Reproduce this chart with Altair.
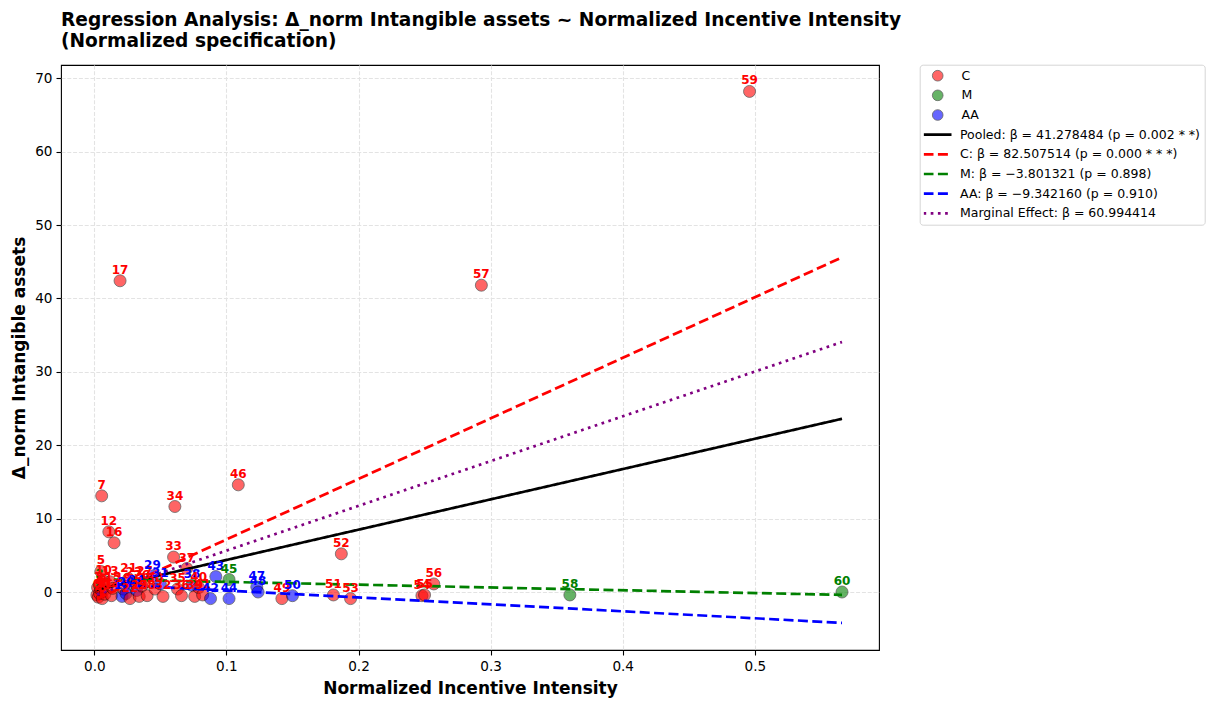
import altair as alt
import pandas as pd

# ---- scatter data (index label, x, y, group) ----
pt_id = list(range(61))
pt_x = [0.0020, 0.0025, 0.0030, 0.0040, 0.0040, 0.0050, 0.0050, 0.0056, 0.0060, 0.0065,
        0.0070, 0.0080, 0.0110, 0.0120, 0.0130, 0.0140, 0.0150, 0.0195, 0.0210, 0.0220,
        0.0240, 0.0260, 0.0270, 0.0300, 0.0320, 0.0340, 0.0360, 0.0380, 0.0400, 0.0440,
        0.0460, 0.0500, 0.0520, 0.0600, 0.0610, 0.0630, 0.0660, 0.0700, 0.0740, 0.0760,
        0.0790, 0.0820, 0.0880, 0.0920, 0.1020, 0.1020, 0.1090, 0.1230, 0.1240, 0.1420,
        0.1500, 0.1810, 0.1870, 0.1940, 0.2480, 0.2500, 0.2570, 0.2930, 0.3600, 0.4960,
        0.5660]
pt_y = [-0.40, 0.60, -0.70, 0.90, -0.20, 2.80, 0.30, 13.10, -0.90, 0.10,
        1.50, -0.30, 8.20, 1.40, -0.50, 0.50, 6.70, 42.40, -0.60, 0.40,
        -0.20, 1.80, -0.90, 1.20, 0.20, -0.60, 0.80, 1.30, -0.50, 2.20,
        0.40, 1.10, -0.60, 4.76, 11.65, 0.40, -0.50, 3.20, 0.90, -0.60,
        0.60, -0.40, -0.90, 2.10, -0.90, 1.70, 14.60, 0.70, 0.00, -0.90,
        -0.50, -0.40, 5.20, -0.90, -0.50, -0.40, 1.10, 41.80, -0.40, 68.20,
        0.00]
pt_group = ["C", "C", "C", "M", "C", "C", "C", "C", "C", "C",
            "C", "C", "C", "C", "C", "C", "C", "C", "AA", "C",
            "AA", "C", "C", "C", "AA", "C", "C", "C", "C", "AA",
            "C", "AA", "C", "C", "C", "C", "C", "C", "AA", "C",
            "C", "C", "AA", "AA", "AA", "M", "C", "AA", "AA", "C",
            "AA", "C", "C", "C", "C", "C", "C", "C", "M", "C",
            "M"]

groups = ["C", "M", "AA"]
group_colors = ["#ff0000", "#008000", "#0000ff"]

# ---- regression lines (endpoints) ----
line_names = [
    "Pooled: β = 41.278484 (p = 0.002 * *)",
    "C: β = 82.507514 (p = 0.000 * * *)",
    "M: β = −3.801321 (p = 0.898)",
    "AA: β = −9.342160 (p = 0.910)",
    "Marginal Effect: β = 60.994414",
]
line_colors = ["#000000", "#ff0000", "#008000", "#0000ff", "#800080"]
line_dashes = [[1, 0], [10, 4.4], [10, 4.4], [10, 4.4], [2.7, 4.5]]
line_x0 = [0.002, 0.002, 0.004, 0.021, 0.002]
line_x1 = [0.566, 0.566, 0.566, 0.566, 0.566]
line_y0 = [0.32, -0.93, 1.74, 0.95, -0.34]
line_y1 = [23.6, 45.6, -0.39, -4.2, 34.06]

x_ticks = [0.0, 0.1, 0.2, 0.3, 0.4, 0.5]
y_ticks = [0, 10, 20, 30, 40, 50, 60, 70]

color_map = dict(zip(groups, group_colors))
pts = pd.DataFrame({"id": pt_id, "x": pt_x, "y": pt_y, "group": pt_group})
pts["lab"] = pts["id"].astype(str)
pts["tcolor"] = pts["group"].map(color_map)

rows = []
for n, a, b, c, d in zip(line_names, line_x0, line_x1, line_y0, line_y1):
    rows.append({"series": n, "x": a, "y": c})
    rows.append({"series": n, "x": b, "y": d})
lines_df = pd.DataFrame(rows)

FONT = "DejaVu Sans"
xscale = alt.Scale(domain=[-0.0252, 0.594], nice=False, zero=False)
yscale = alt.Scale(domain=[-7.9, 71.8], nice=False, zero=False)

xaxis = alt.Axis(values=x_ticks, format=".1f", title="Normalized Incentive Intensity", titlePadding=8)
yaxis = alt.Axis(values=y_ticks, format="d", title="Δ_norm Intangible assets", titlePadding=6)

points = alt.Chart(pts).mark_circle(size=144, opacity=0.6, stroke="black", strokeWidth=0.8).encode(
    x=alt.X("x:Q", scale=xscale, axis=xaxis),
    y=alt.Y("y:Q", scale=yscale, axis=yaxis),
    color=alt.Color("group:N", scale=alt.Scale(domain=groups, range=group_colors),
                    legend=alt.Legend(title=None, orient="none", legendX=858.7, legendY=0.2,
                                      symbolType="circle", symbolSize=114, symbolOpacity=0.6,
                                      symbolStrokeColor="black", symbolStrokeWidth=0.8,
                                      labelFont=FONT, labelFontSize=12.5, labelColor="black",
                                      labelFontWeight="normal",
                                      symbolOffset=7.75, labelOffset=17.5, clipHeight=13,
                                      rowPadding=6.66, padding=4)),
)

line_legend = alt.Legend(title="·", titleOpacity=0, titleFontSize=10, titlePadding=49.5,
                         orient="none", legendX=858.7, legendY=-0.3,
                         symbolType="stroke", symbolSize=784, symbolStrokeWidth=2.7,
                         labelFont=FONT, labelFontSize=12.5, labelColor="black",
                         labelFontWeight="normal",
                         labelLimit=400, symbolOffset=-1.7, labelOffset=7,
                         clipHeight=13, rowPadding=6.66, padding=4,
                         strokeColor="#d6d6d6", cornerRadius=3)

lines = alt.Chart(lines_df).mark_line(strokeWidth=2.7).encode(
    x=alt.X("x:Q", scale=xscale),
    y=alt.Y("y:Q", scale=yscale),
    color=alt.Color("series:N", scale=alt.Scale(domain=line_names, range=line_colors), legend=line_legend),
    strokeDash=alt.StrokeDash("series:N", scale=alt.Scale(domain=line_names, range=line_dashes), legend=line_legend),
)

labels = alt.Chart(pts).mark_text(font=FONT, fontSize=12, fontWeight="bold", baseline="alphabetic",
                                  align="center", dy=-7).encode(
    x=alt.X("x:Q", scale=xscale),
    y=alt.Y("y:Q", scale=yscale),
    text="lab:N",
    color=alt.Color("tcolor:N", scale=None),
)

chart = alt.layer(points, lines, labels).resolve_scale(
    color="independent", strokeDash="independent"
).resolve_legend(
    color="independent", strokeDash="independent"
).properties(
    width=818,
    height=585,
    title=alt.TitleParams(
        text=["Regression Analysis: Δ_norm Intangible assets ~ Normalized Incentive Intensity",
              "(Normalized specification)"],
        anchor="start", frame="group", font=FONT, fontSize=18.6, fontWeight="bold",
        color="black", offset=14, lineHeight=21),
    padding={"left": 53, "top": 57, "right": 328, "bottom": 51},
    autosize=alt.AutoSizeParams(type="none"),
).configure_view(stroke="black", strokeWidth=1.1).configure_axis(
    labelFont=FONT, labelFontSize=13.6, labelColor="black",
    tickColor="black", tickSize=5, tickWidth=1.1, labelPadding=4,
    domain=False, grid=True, gridColor="#e3e3e3", gridDash=[4, 1.8], gridWidth=1.1,
    titleFont=FONT, titleFontSize=17, titleFontWeight="bold", titleColor="black",
)

chart.save("out.html", embed_options={"renderer": "svg", "actions": False})
